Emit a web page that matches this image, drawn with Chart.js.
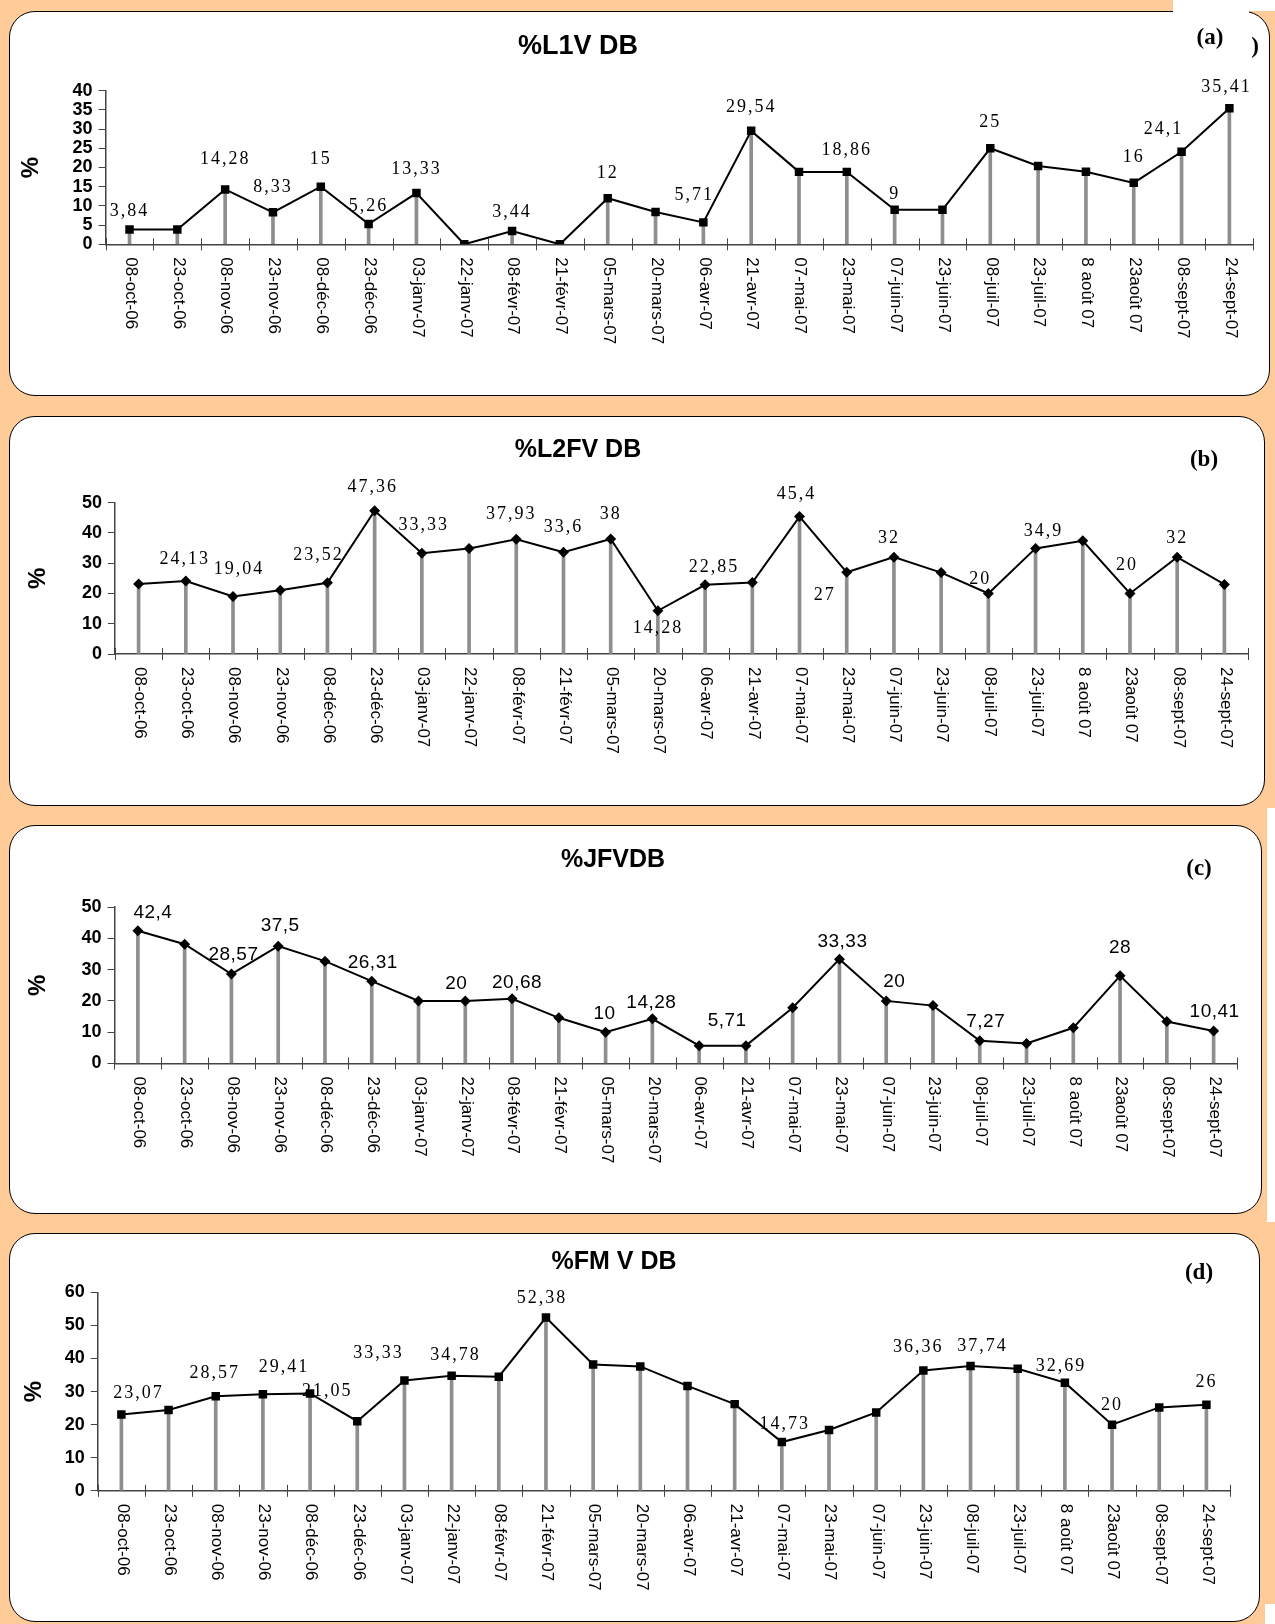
<!DOCTYPE html>
<html>
<head>
<meta charset="utf-8">
<script src="https://cdn.jsdelivr.net/npm/chart.js@4.4.1/dist/chart.umd.min.js"></script>
<style>
  html, body { margin: 0; padding: 0; background: #FFCC99; }
  #page { position: relative; width: 1275px; height: 1624px; overflow: hidden; background: #FFCC99; }
  .panel { position: absolute; background: #fff; border: 1.5px solid #000; border-radius: 26px; box-sizing: border-box; }
  .title { position: absolute; font: bold 25px "Liberation Sans", Arial, sans-serif; transform: translate(-50%, -50%); white-space: nowrap; color: #000; }
  .tag { position: absolute; font: bold 23px "Liberation Serif", "Times New Roman", serif; transform: translate(-50%, -50%); white-space: nowrap; color: #000; }
  .patch { position: absolute; background: #fff; }
  canvas { position: absolute; left: 0; }
</style>
</head>
<body>
<div id="page">
  <div class="panel" style="left:9px;top:11px;width:1261px;height:385px"></div>
  <div class="panel" style="left:9px;top:416px;width:1256px;height:390px"></div>
  <div class="panel" style="left:9px;top:825px;width:1253px;height:389px"></div>
  <div class="panel" style="left:9px;top:1233px;width:1251px;height:389px"></div>
  <div class="patch" style="left:1173px;top:0px;width:102px;height:11px"></div>
  <div class="patch" style="left:1173px;top:9px;width:76px;height:5px"></div>
  <div class="patch" style="left:1267px;top:808px;width:8px;height:414px"></div>
  <div class="patch" style="left:1265px;top:1604px;width:10px;height:20px"></div>

  <canvas id="chartA"></canvas>
  <canvas id="chartB"></canvas>
  <canvas id="chartC"></canvas>
  <canvas id="chartD"></canvas>

  <div class="title" style="left:578px;top:45px;font-size:27px">%L1V DB</div>
  <div class="title" style="left:578px;top:448px">%L2FV DB</div>
  <div class="title" style="left:613px;top:858px">%JFVDB</div>
  <div class="title" style="left:614px;top:1260px">%FM V DB</div>
  <div class="tag" style="left:1210px;top:37px">(a)</div>
  <div class="tag" style="left:1255px;top:46px">)</div>
  <div class="tag" style="left:1204px;top:459px">(b)</div>
  <div class="tag" style="left:1199px;top:868px">(c)</div>
  <div class="tag" style="left:1199px;top:1272px">(d)</div>
</div>

<script>
// Sampling dates (shared by all four panels)
const categories = [
  '08-oct-06', '23-oct-06', '08-nov-06', '23-nov-06', '08-déc-06', '23-déc-06',
  '03-janv-07', '22-janv-07', '08-févr-07', '21-févr-07', '05-mars-07', '20-mars-07',
  '06-avr-07', '21-avr-07', '07-mai-07', '23-mai-07', '07-juin-07', '23-juin-07',
  '08-juil-07', '23-juil-07', '8 août 07', '23août 07', '08-sept-07', '24-sept-07'
];

// (a) %L1V DB
const valuesL1V = [3.84, 3.84, 14.28, 8.33, 15, 5.26, 13.33, 0, 3.44, 0, 12, 8.4,
                   5.71, 29.54, 18.86, 18.86, 9, 9, 25, 20.4, 18.9, 16, 24.1, 35.41];
const ticksL1V = [0, 5, 10, 15, 20, 25, 30, 35, 40];
const labeledL1V = [0, 2, 3, 4, 5, 6, 8, 10, 12, 13, 15, 16, 18, 21, 22, 23];

// (b) %L2FV DB
const valuesL2FV = [23.1, 24.13, 19.04, 21.1, 23.52, 47.36, 33.33, 34.9, 37.93, 33.6, 38, 14.28,
                    22.85, 23.6, 45.4, 27, 32, 26.9, 20, 34.9, 37.4, 20, 32, 23];
const ticksL2FV = [0, 10, 20, 30, 40, 50];
const labeledL2FV = [1, 2, 4, 5, 6, 8, 9, 10, 11, 12, 14, 15, 16, 18, 19, 21, 22];

// (c) %JFVDB
const valuesJFV = [42.4, 38.1, 28.57, 37.5, 32.7, 26.31, 20, 20, 20.68, 14.6, 10, 14.28,
                   5.71, 5.71, 17.8, 33.33, 20, 18.5, 7.27, 6.4, 11.4, 28, 13.4, 10.41];
const ticksJFV = [0, 10, 20, 30, 40, 50];
const labeledJFV = [0, 2, 3, 5, 7, 8, 10, 11, 12, 15, 16, 18, 21, 23];

// (d) %FM V DB
const valuesFMV = [23.07, 24.4, 28.57, 29.2, 29.41, 21.05, 33.33, 34.78, 34.5, 52.38, 38.2, 37.6,
                   31.7, 26.2, 14.73, 18.4, 23.7, 36.36, 37.74, 36.9, 32.69, 20, 25.2, 26];
const ticksFMV = [0, 10, 20, 30, 40, 50, 60];
const labeledFMV = [0, 2, 4, 5, 6, 7, 9, 14, 17, 18, 20, 21, 23];

// Value-label placement (text centre relative to the marker, px)
const offsetsL1V = [[0,-18],[0,-30],[0,-25],[0,-27],[0,-18],[0,-24],[0,-19],[0,-25],[-9,-27],
                    [0,-24],[0,-22],[0,-15],[0,-26],[0,-26],[-18,-22],[-3,-21]];
const offsetsL2FV = [[-1,-22],[6,-27],[-9,-28],[-2,-23],[2,-28],[-5,-25],[0,-25],[0,-25],
                     [0,17],[9,-18],[-3,-22],[-22,23],[-5,-19],[-8,-14],[8,-17],[-3,-28],[0,-19]];
const offsetsJFV = [[15,-18],[2,-19],[2,-20],[1,-18],[-9,-17],[5,-16],[-1,-18],[-1,-16],[28,-25],
                    [3,-17],[8,-19],[6,-19],[0,-28],[1,-19]];
const offsetsFMV = [[17,-21],[-1,-23],[-26,-26],[-30,-30],[-26,-27],[4,-20],[-4,-19],[3,-18],
                    [-5,-23],[12,-20],[-4,-16],[0,-19],[0,-23]];

const fmt = v => String(v).replace('.', ',');

function decorations(cfg) {
  return {
    id: 'panelDecorations',
    afterDatasetsDraw(chart) {
      const { ctx, chartArea: ca, scales: { x } } = chart;
      ctx.save();

      // cross tick marks on the category axis, between categories
      const step = x.getPixelForValue(1) - x.getPixelForValue(0);
      ctx.strokeStyle = '#444';
      ctx.lineWidth = 1;
      for (let i = 0; i <= categories.length; i++) {
        const xx = Math.round(x.getPixelForValue(i) - step / 2) + 0.5;
        ctx.beginPath();
        ctx.moveTo(xx, ca.bottom - 6);
        ctx.lineTo(xx, ca.bottom + 6);
        ctx.stroke();
      }

      // date labels, turned a quarter clockwise
      ctx.fillStyle = '#000';
      ctx.font = '17px "Liberation Sans", Arial, sans-serif';
      ctx.textAlign = 'left';
      ctx.textBaseline = 'middle';
      categories.forEach((c, i) => {
        ctx.save();
        ctx.translate(x.getPixelForValue(i) + 1, ca.bottom + 13);
        ctx.rotate(Math.PI / 2);
        ctx.fillText(c, 0, 0);
        ctx.restore();
      });

      // "%" axis title
      ctx.save();
      ctx.font = 'bold 24px "Liberation Sans", Arial, sans-serif';
      ctx.textAlign = 'center';
      ctx.textBaseline = 'middle';
      ctx.translate(cfg.unitX, (ca.top + ca.bottom) / 2);
      ctx.rotate(-Math.PI / 2);
      ctx.fillText('%', 0, 0);
      ctx.restore();

      // value labels
      const meta = chart.getDatasetMeta(0);
      ctx.font = cfg.labelFont;
      ctx.letterSpacing = cfg.labelSpacing;
      ctx.textAlign = 'center';
      ctx.textBaseline = 'middle';
      cfg.labeled.forEach((idx, k) => {
        const pt = meta.data[idx];
        const [dx, dy] = cfg.offsets[k];
        ctx.fillText(fmt(cfg.values[idx]), pt.x + dx, pt.y + dy);
      });
      ctx.restore();
    }
  };
}

function buildPanel(canvasId, cfg) {
  const canvas = document.getElementById(canvasId);
  canvas.width = 1275;
  canvas.height = cfg.box.h;
  canvas.style.top = cfg.box.y + 'px';
  canvas.style.width = '1275px';
  canvas.style.height = cfg.box.h + 'px';

  return new Chart(canvas, {
    type: 'bar',
    data: {
      labels: categories,
      datasets: [
        {
          type: 'line',
          order: 0,
          data: cfg.values,
          borderColor: '#000',
          borderWidth: 2,
          tension: 0,
          pointStyle: cfg.marker,
          pointRadius: cfg.marker === 'rect' ? 6 : 5.5,
          pointBackgroundColor: '#000',
          pointBorderColor: '#000',
          pointBorderWidth: 0
        },
        {
          type: 'bar',
          order: 1,
          data: cfg.values,
          backgroundColor: '#8e8e8e',
          borderWidth: 0,
          barThickness: 3
        }
      ]
    },
    options: {
      responsive: false,
      animation: false,
      devicePixelRatio: 1,
      events: [],
      layout: {
        padding: {
          left: 0,
          right: 1275 - cfg.plot.r,
          top: cfg.plot.t - cfg.box.y,
          bottom: 0
        }
      },
      plugins: { legend: { display: false }, tooltip: { enabled: false }, title: { display: false } },
      scales: {
        x: {
          type: 'category',
          offset: true,
          grid: { display: false },
          ticks: { display: false },
          border: { display: true, color: '#444', width: 1.5 },
          afterFit: s => { s.height = cfg.box.y + cfg.box.h - cfg.plot.b; }
        },
        y: {
          min: cfg.ticks[0],
          max: cfg.ticks[cfg.ticks.length - 1],
          afterBuildTicks: s => { s.ticks = cfg.ticks.map(v => ({ value: v })); },
          ticks: {
            color: '#000',
            padding: 6,
            autoSkip: false,
            font: { family: '"Liberation Sans", Arial, sans-serif', size: 18, weight: 'bold', lineHeight: 1 }
          },
          grid: { display: true, drawOnChartArea: false, drawTicks: true, tickLength: 7, color: '#444', lineWidth: 1 },
          border: { display: true, color: '#444', width: 1.5 },
          afterFit: s => { s.width = cfg.plot.l; }
        }
      }
    },
    plugins: [decorations(cfg)]
  });
}

const serif = '18px "Liberation Serif", "Times New Roman", serif';
const sans = '19px "Liberation Sans", Arial, sans-serif';

buildPanel('chartA', {
  values: valuesL1V, ticks: ticksL1V, labeled: labeledL1V, offsets: offsetsL1V,
  marker: 'rect', labelFont: serif, labelSpacing: '2px', unitX: 31,
  box: { y: 11, h: 385 }, plot: { l: 105.6, r: 1253.3, t: 90.7, b: 244.3 }
});
buildPanel('chartB', {
  values: valuesL2FV, ticks: ticksL2FV, labeled: labeledL2FV, offsets: offsetsL2FV,
  marker: 'rectRot', labelFont: serif, labelSpacing: '2px', unitX: 38,
  box: { y: 416, h: 390 }, plot: { l: 115, r: 1248, t: 502.7, b: 654 }
});
buildPanel('chartC', {
  values: valuesJFV, ticks: ticksJFV, labeled: labeledJFV, offsets: offsetsJFV,
  marker: 'rectRot', labelFont: sans, labelSpacing: '0.5px', unitX: 38,
  box: { y: 825, h: 389 }, plot: { l: 114.5, r: 1237, t: 907, b: 1063.5 }
});
buildPanel('chartD', {
  values: valuesFMV, ticks: ticksFMV, labeled: labeledFMV, offsets: offsetsFMV,
  marker: 'rect', labelFont: serif, labelSpacing: '2px', unitX: 34,
  box: { y: 1233, h: 389 }, plot: { l: 97.8, r: 1230, t: 1292.3, b: 1490.8 }
});
</script>
</body>
</html>
